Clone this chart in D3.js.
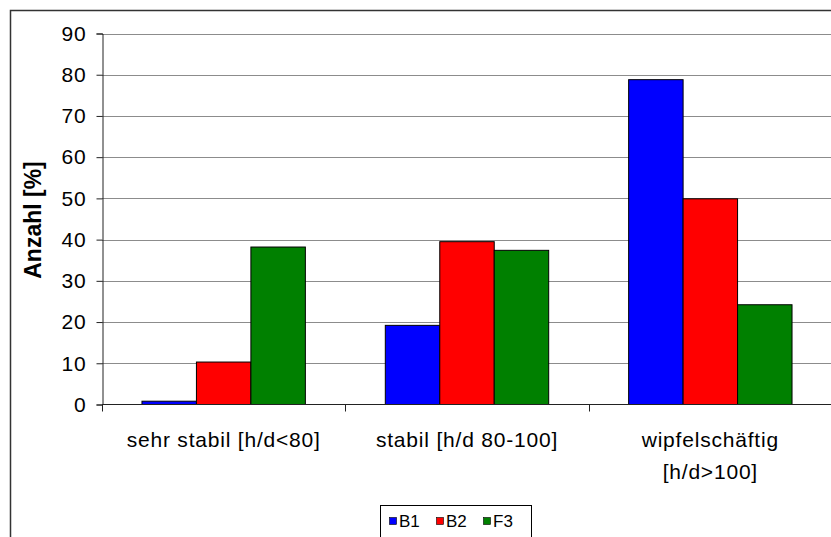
<!DOCTYPE html>
<html lang="de">
<head>
<meta charset="UTF-8">
<title>Anzahl</title>
<script src="https://d3js.org/d3.v7.min.js"></script>
<style>
  body { margin: 0; background: #fff; }
  svg { display: block; font-family: "Liberation Sans", Arial, sans-serif; }
</style>
</head>
<body>
<div id="chart"></div>
<script>
// data
const categories = [["sehr stabil [h/d<80]"], ["stabil [h/d 80-100]"], ["wipfelschäftig", "[h/d>100]"]];
const series = ["B1", "B2", "F3"];
const colors = ["#0000ff", "#ff0000", "#008000"];
const valuesB1 = [0.8, 19.2, 78.8];
const valuesB2 = [10.3, 39.5, 49.9];
const valuesF3 = [38.2, 37.4, 24.2];
const yTicks = [0, 10, 20, 30, 40, 50, 60, 70, 80, 90];

const allValues = [valuesB1, valuesB2, valuesF3];

const W = 831, H = 537;
const plot = {left: 102, right: 832, top: 33.5, bottom: 404.5};

const svg = d3.select("#chart").append("svg")
    .attr("width", W)
    .attr("height", H);

// outer frame (cropped at right/bottom)
svg.append("rect")
    .attr("x", 10.5).attr("y", 10.5)
    .attr("width", W + 20).attr("height", H + 20)
    .attr("fill", "none")
    .attr("stroke", "#333")
    .attr("stroke-width", 1.5);

const x0 = d3.scaleBand()
    .domain(d3.range(categories.length))
    .range([plot.left, plot.right])
    .paddingInner(0).paddingOuter(0);

const x1 = d3.scaleBand()
    .domain(series)
    .range([0, x0.bandwidth()])
    .paddingInner(0)
    .paddingOuter(0.734);

const y = d3.scaleLinear()
    .domain([0, 90])
    .range([plot.bottom, plot.top]);

// gridlines
svg.append("g")
    .selectAll("line")
    .data(yTicks.filter(d => d > 0))
    .join("line")
    .attr("x1", plot.left).attr("x2", W)
    .attr("y1", d => Math.round(y(d)) + 0.5)
    .attr("y2", d => Math.round(y(d)) + 0.5)
    .attr("stroke", "#8c8c8c")
    .attr("stroke-width", 1);

// bars
const groups = svg.append("g")
    .selectAll("g")
    .data(categories.map((c, i) => i))
    .join("g")
    .attr("transform", i => `translate(${x0(i)},0)`);

groups.selectAll("rect")
    .data(i => series.map((s, j) => ({s: s, j: j, v: allValues[j][i]})))
    .join("rect")
    .attr("x", d => x1(d.s))
    .attr("y", d => y(d.v))
    .attr("width", x1.bandwidth())
    .attr("height", d => y(0) - y(d.v))
    .attr("fill", d => colors[d.j])
    .attr("stroke", "#000")
    .attr("stroke-width", 1);

// y axis
const yAxis = svg.append("g")
    .attr("transform", `translate(${plot.left + 0.5},0)`)
    .call(d3.axisLeft(y).tickValues(yTicks).tickSize(6).tickPadding(10));
yAxis.select(".domain").attr("stroke", "#222");
yAxis.selectAll(".tick line").attr("stroke", "#222");
yAxis.selectAll(".tick text")
    .attr("font-size", 21)
    .attr("letter-spacing", 0.8)
    .attr("font-family", "Liberation Sans, Arial, sans-serif")
    .attr("fill", "#000");

// x axis line + ticks at band boundaries
svg.append("line")
    .attr("x1", plot.left).attr("x2", W)
    .attr("y1", plot.bottom).attr("y2", plot.bottom)
    .attr("stroke", "#222");
svg.append("g")
    .selectAll("line")
    .data(d3.range(categories.length))
    .join("line")
    .attr("x1", i => Math.round(x0(i)) + 0.5)
    .attr("x2", i => Math.round(x0(i)) + 0.5)
    .attr("y1", plot.bottom).attr("y2", plot.bottom + 7)
    .attr("stroke", "#222");

// category labels
const labels = svg.append("g")
    .selectAll("text")
    .data(categories.map((c, i) => ({lines: c, i: i})))
    .join("text")
    .attr("text-anchor", "middle")
    .attr("font-size", 21)
    .attr("letter-spacing", 0.8)
    .attr("fill", "#000");
labels.selectAll("tspan")
    .data(d => d.lines.map(l => ({l: l, i: d.i})))
    .join("tspan")
    .attr("x", d => x0(d.i) + x0.bandwidth() / 2)
    .attr("y", (d, k) => 447 + k * 32)
    .text(d => d.l);

// y title
svg.append("text")
    .attr("transform", "translate(41,220) rotate(-90)")
    .attr("text-anchor", "middle")
    .attr("font-size", 23)
    .attr("font-weight", "bold")
    .text("Anzahl [%]");

// legend
const legend = svg.append("g");
legend.append("rect")
    .attr("x", 380.5).attr("y", 505.5)
    .attr("width", 151).attr("height", 40)
    .attr("fill", "#fff")
    .attr("stroke", "#000");
const item = legend.selectAll("g")
    .data(series)
    .join("g")
    .attr("transform", (d, j) => `translate(${389 + j * 47},0)`);
item.append("rect")
    .attr("x", 0.5).attr("y", 517.5)
    .attr("width", 7).attr("height", 7)
    .attr("fill", (d, j) => colors[j])
    .attr("stroke", "#000")
    .attr("stroke-width", 0.6);
item.append("text")
    .attr("x", 10).attr("y", 527)
    .attr("font-size", 17)
    .text(d => d);
</script>
</body>
</html>
